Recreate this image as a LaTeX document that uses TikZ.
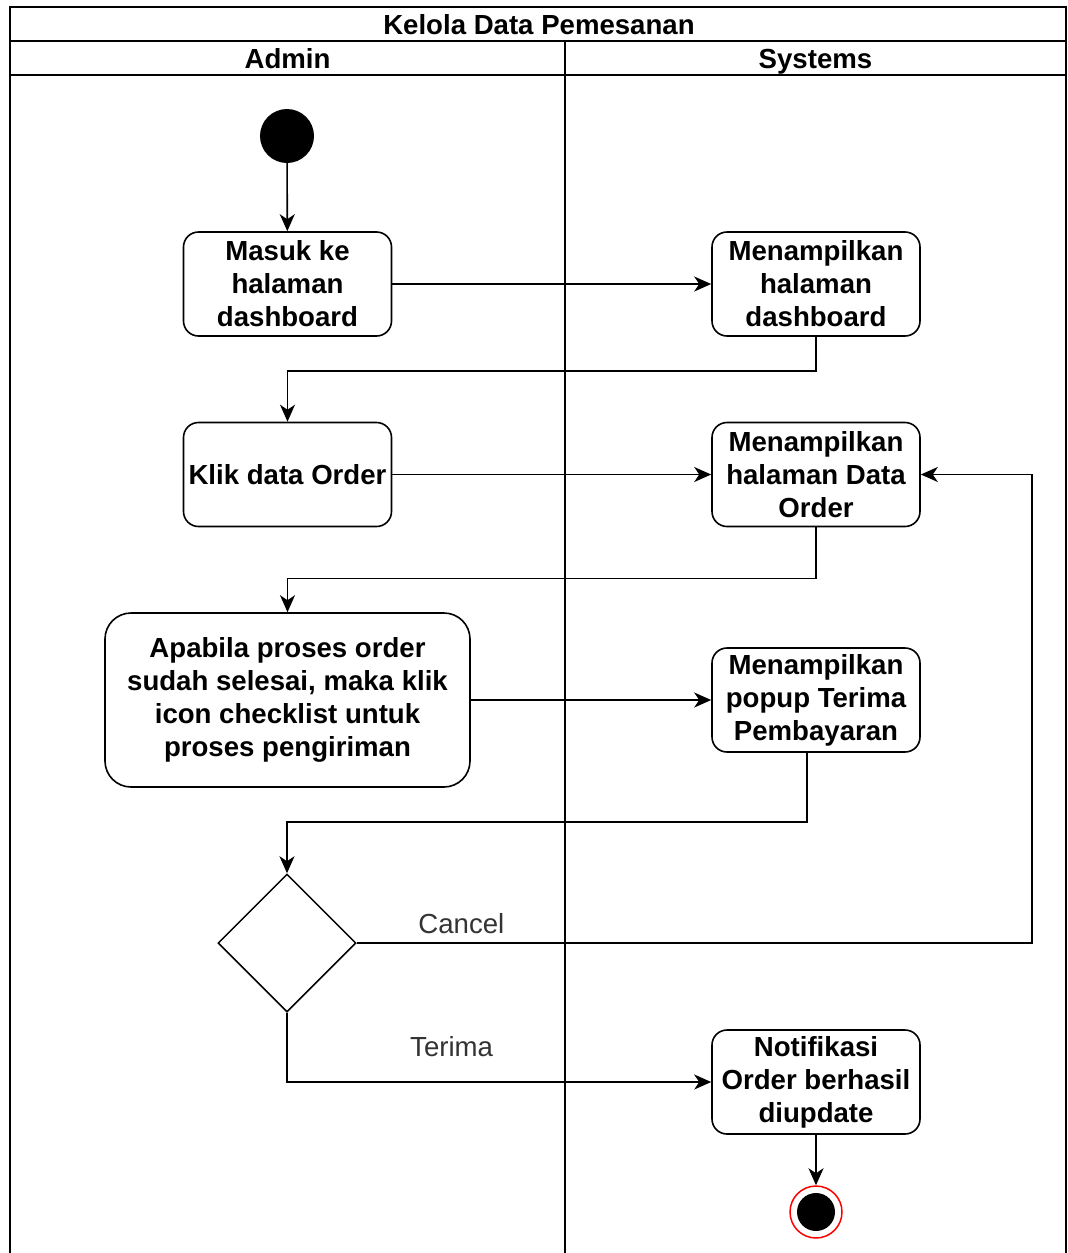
\documentclass[tikz,border=0pt]{standalone}
\usepackage{fontspec}
\setmainfont{Liberation Sans}
\usetikzlibrary{shapes.geometric,arrows.meta}

\tikzset{
  act/.style={draw, rounded corners=15pt, line width=1.6pt, minimum width=208pt,
    minimum height=104pt, align=center, inner sep=2pt,
    font=\bfseries\fontsize{27.6}{33}\selectfont},
  head/.style={inner sep=0pt, anchor=base, font=\bfseries\fontsize{27.6}{33}\selectfont},
  lbl/.style={inner sep=2pt, text=black!80, font=\fontsize{27.6}{33}\selectfont},
  flow/.style={line width=1.6pt, -{Stealth[length=17pt,width=15pt,inset=5pt]}},
}

\begin{document}
\begin{tikzpicture}[x=1pt,y=-1pt]
  \useasboundingbox (0,0) rectangle (1068,1253);
  % swimlanes
  \draw[line width=2pt] (10,1253) -- (10,7) -- (1066,7) -- (1066,1253);
  \foreach \y in {41,75} {
    \draw[line width=2pt] (10,\y) -- (1066,\y);
  }
  \draw[line width=2pt] (565,41) -- (565,1253);
  \node[head] (title) at (539,34) {Kelola Data Pemesanan};
  \node[head] (admin) at (287.5,68) {Admin};
  \node[head] (sys) at (815.5,68) {Systems};

  % activities
  \node[circle, fill=black, minimum size=54pt, inner sep=0pt] (start) at (287,136) {};
  \node[act] (masuk) at (287.5,284) {Masuk ke\\halaman\\dashboard};
  \node[act] (mdash) at (816,284) {Menampilkan\\halaman\\dashboard};
  \node[act] (klik) at (287.5,474.5) {Klik data Order};
  \node[act] (morder) at (816,474.5) {Menampilkan\\halaman Data\\Order};
  \node[act, rounded corners=26pt, minimum width=365pt, minimum height=174pt] (apabila) at (287.5,700)
    {Apabila proses order\\sudah selesai, maka klik\\icon checklist untuk\\proses pengiriman};
  \node[act] (popup) at (816,700) {Menampilkan\\popup Terima\\Pembayaran};
  \node[diamond, draw, line width=1.5pt, aspect=1, minimum width=138pt, minimum height=138pt,
    inner sep=0pt] (dec) at (287,943) {};
  \node[act] (notif) at (816,1082) {Notifikasi\\Order berhasil\\diupdate};
  \node[circle, draw=red, line width=1.5pt, fill=white, minimum size=52pt, inner sep=0pt,
    path picture={\fill[black] (path picture bounding box.center) circle (19pt);}] (end) at (816,1212) {};

  % flows
  \draw[flow] (start) -- (masuk);
  \draw[flow] (masuk) -- (mdash);
  \draw[flow] (mdash.south) -- ++(0,34) -| (klik.north);
  \draw[flow] (klik) -- (morder);
  \draw[flow] (morder.south) -- ++(0,51) -| (apabila.north);
  \draw[flow] (apabila) -- (popup);
  \draw[flow] ([xshift=-9pt]popup.south) -- ++(0,69) -| (dec.north);
  \coordinate (back) at (1032,943);
  \draw[flow] (dec.east) -- node[lbl, above=6pt, pos=0.155] {Cancel} (back) |- (morder.east);
  \draw[flow] (dec.south) |- node[lbl, above=22pt, pos=0.694] {Terima} (notif.west);
  \draw[flow] (notif) -- (end);
\end{tikzpicture}
\end{document}
